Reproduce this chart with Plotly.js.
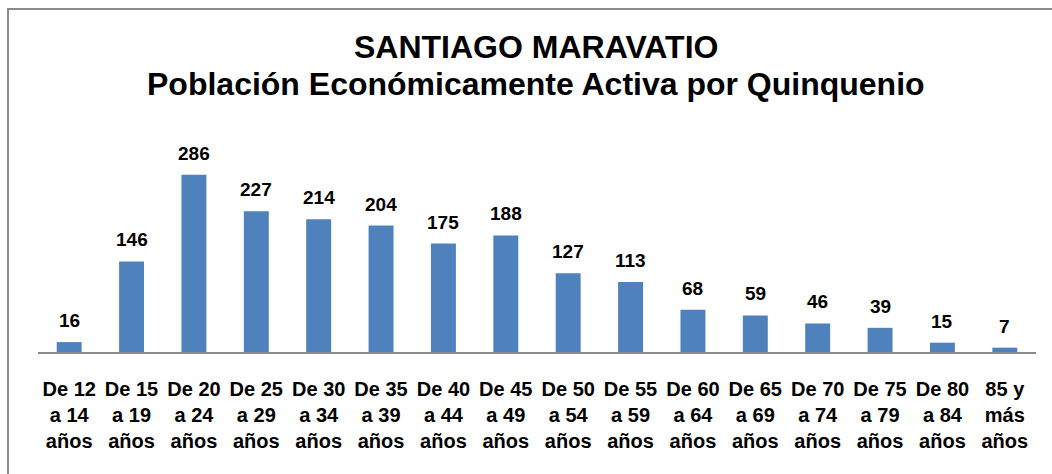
<!DOCTYPE html>
<html>
<head>
<meta charset="utf-8">
<script src="https://cdn.plot.ly/plotly-3.0.1.min.js"></script>
<style>
  html, body { margin: 0; padding: 0; background: #fff; }
  #frame { position: absolute; left: 7px; top: 8px; width: 1100px; height: 520px;
           border-left: 2px solid #8a8a8a; border-top: 2px solid #8a8a8a; }
  #chart { position: absolute; left: 0; top: 0; width: 1052px; height: 474px; }
</style>
</head>
<body>
<div id="frame"></div>
<div id="chart"></div>
<script>
const categories = [
  "De 12<br>a 14<br>años", "De 15<br>a 19<br>años", "De 20<br>a 24<br>años", "De 25<br>a 29<br>años",
  "De 30<br>a 34<br>años", "De 35<br>a 39<br>años", "De 40<br>a 44<br>años", "De 45<br>a 49<br>años",
  "De 50<br>a 54<br>años", "De 55<br>a 59<br>años", "De 60<br>a 64<br>años", "De 65<br>a 69<br>años",
  "De 70<br>a 74<br>años", "De 75<br>a 79<br>años", "De 80<br>a 84<br>años", "85 y<br>más<br>años"
];
const values = [16, 146, 286, 227, 214, 204, 175, 188, 127, 113, 68, 59, 46, 39, 15, 7];
const titleLines = ["SANTIAGO MARAVATIO", "Población Económicamente Activa por Quinquenio"];

const FONT = "Liberation Sans, Arial, sans-serif";

const trace = {
  type: "bar",
  x: categories,
  y: values,
  marker: { color: "#4F81BD" },
  hoverinfo: "x+y"
};

const valueLabels = categories.map((c, i) => ({
  x: c, y: values[i], xref: "x", yref: "y",
  text: "<b>" + values[i] + "</b>",
  showarrow: false, yanchor: "bottom", yshift: 9,
  font: { family: FONT, size: 19, color: "#000" }
}));

const titleAnn = [
  { text: "<b>" + titleLines[0] + "</b>", yshift: 88 },
  { text: "<b>" + titleLines[1] + "</b>", yshift: 51 }
].map(t => ({
  text: t.text, xref: "paper", yref: "paper", x: 0.499, y: 1,
  xanchor: "center", yanchor: "middle", yshift: t.yshift, showarrow: false,
  font: { family: FONT, size: 32, color: "#000" }
}));

const layout = {
  width: 1052, height: 474,
  paper_bgcolor: "rgba(0,0,0,0)",
  plot_bgcolor: "rgba(0,0,0,0)",
  margin: { l: 38, r: 16, t: 135, b: 122 },
  showlegend: false,
  bargap: 0.6,
  annotations: titleAnn.concat(valueLabels),
  xaxis: {
    type: "category",
    showline: true, linecolor: "#8a8a8a", linewidth: 2,
    ticks: "outside", ticklen: 18, tickcolor: "rgba(0,0,0,0)",
    tickfont: { family: FONT, size: 20, color: "#000", weight: "bold" },
    tickangle: 0,
    showgrid: false, zeroline: false
  },
  yaxis: {
    range: [0, 350],
    visible: false,
    showgrid: false, zeroline: false
  }
};

Plotly.newPlot("chart", [trace], layout, { displayModeBar: false, staticPlot: true });
</script>
</body>
</html>
